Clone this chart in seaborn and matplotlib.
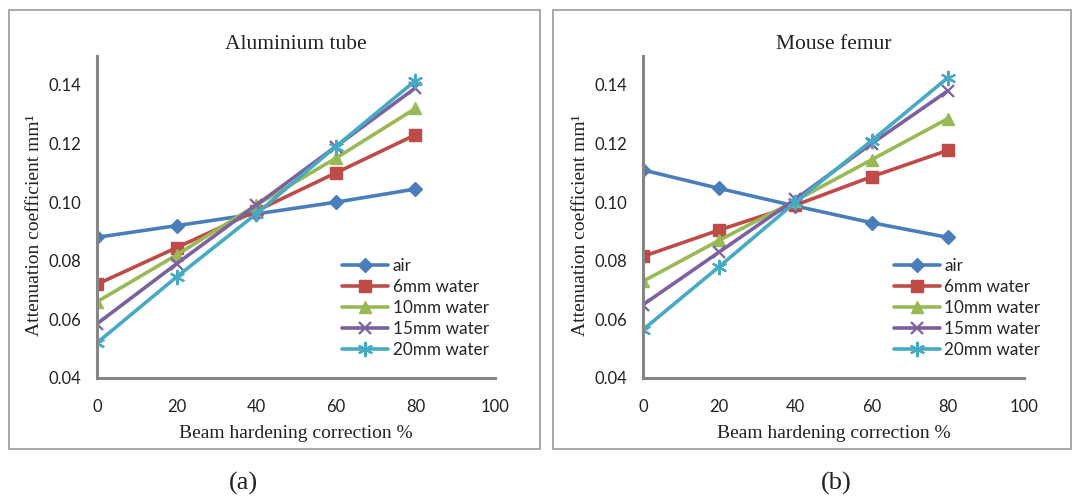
import numpy as np
import pandas as pd
import matplotlib
matplotlib.use("Agg")
import matplotlib.pyplot as plt
import seaborn as sns
from matplotlib.patches import Rectangle

correction = [0, 20, 40, 60, 80]
series_names = ["air", "6mm water", "10mm water", "15mm water", "20mm water"]

alu_air = [0.088, 0.092, 0.096, 0.100, 0.1045]
alu_6mm = [0.072, 0.0845, 0.097, 0.110, 0.123]
alu_10mm = [0.066, 0.082, 0.099, 0.115, 0.132]
alu_15mm = [0.0585, 0.079, 0.099, 0.119, 0.139]
alu_20mm = [0.052, 0.0745, 0.096, 0.119, 0.1415]

fem_air = [0.111, 0.1047, 0.0987, 0.093, 0.088]
fem_6mm = [0.0815, 0.0905, 0.099, 0.1087, 0.1177]
fem_10mm = [0.073, 0.087, 0.1005, 0.1145, 0.1285]
fem_15mm = [0.065, 0.083, 0.101, 0.120, 0.138]
fem_20mm = [0.0565, 0.078, 0.100, 0.121, 0.1425]

titles = ["Aluminium tube", "Mouse femur"]
panel_labels = ["(a)", "(b)"]
x_ticks = [0, 20, 40, 60, 80, 100]
y_ticks = [0.04, 0.06, 0.08, 0.10, 0.12, 0.14]

colors = {"air": "#4A7EBB", "6mm water": "#BE4B48", "10mm water": "#98B954",
          "15mm water": "#7D60A0", "20mm water": "#46AAC5"}
markers = {"air": "D", "6mm water": "s", "10mm water": "^",
           "15mm water": "x", "20mm water": (6, 2, 0)}
msizes = {"air": 7, "6mm water": 9, "10mm water": 9, "15mm water": 9, "20mm water": 11}

datasets = [[alu_air, alu_6mm, alu_10mm, alu_15mm, alu_20mm],
            [fem_air, fem_6mm, fem_10mm, fem_15mm, fem_20mm]]

sns.set_style("white")
plt.rcParams["font.family"] = ["Lato", "DejaVu Sans"]

fig = plt.figure(figsize=(10.73, 5.0), dpi=100)
W, H = 1073, 500

# panel frames
for (x0, x1) in [(9, 540), (553, 1071)]:
    fig.patches.append(Rectangle((x0 / W, 1 - 449 / H), (x1 - x0) / W, (449 - 10) / H,
                                 transform=fig.transFigure, fill=False,
                                 edgecolor="#9a9a9a", linewidth=1.2))

axes_px = [(97, 495), (643, 1024)]
legend_x = [0.616, 0.659]
label_x = [243, 836]
spine_color = "#868686"
serif = ["Liberation Serif", "DejaVu Serif"]

for i, (vals, (px0, px1)) in enumerate(zip(datasets, axes_px)):
    bottom = 1 - 378 / H
    top = 1 - 55.7 / H
    ax = fig.add_axes([px0 / W, bottom, (px1 - px0) / W, top - bottom])
    ax.set_facecolor("none")
    for name, v in zip(series_names, vals):
        df = pd.DataFrame({"x": correction, "y": v})
        lw_edge = 1.6 if name in ("15mm water", "20mm water") else 1
        sns.lineplot(data=df, x="x", y="y", ax=ax, color=colors[name],
                     marker=markers[name], markersize=msizes[name],
                     markeredgecolor=colors[name], markeredgewidth=lw_edge,
                     linewidth=2.6, label=name)
    ax.set_xlim(0, 100)
    ax.set_ylim(0.04, 0.15)
    ax.set_xticks(x_ticks)
    ax.set_yticks(y_ticks)
    ax.set_yticklabels([f"{v:.2f}" for v in y_ticks])
    for s in ["top", "right"]:
        ax.spines[s].set_visible(False)
    for s in ["left", "bottom"]:
        ax.spines[s].set_color(spine_color)
        ax.spines[s].set_linewidth(2.2)
    ax.tick_params(axis="both", direction="out", length=5, width=2, color=spine_color,
                   labelsize=12, labelcolor="#222222", pad=6)
    ax.tick_params(axis="x", pad=10)
    ax.set_xlabel("Beam hardening correction %", family=serif,
                  fontsize=14, color="#222222", labelpad=7)
    ax.set_ylabel("Attenuation coefficient mm\u00b9", family=serif,
                  fontsize=14, color="#222222", labelpad=4)
    ax.yaxis.label.set_y(0.475)
    ax.set_title(titles[i], family=serif, fontsize=15.5, color="#222222", pad=5)
    ax.legend(loc="center left", bbox_to_anchor=(legend_x[i], 0.217),
              frameon=False, fontsize=12.3, handlelength=2.7, handletextpad=0.25,
              labelspacing=0.3, borderaxespad=0, borderpad=0)
    fig.text(label_x[i] / W, 1 - 483 / H, panel_labels[i], ha="center", va="center",
             family=serif, fontsize=19, color="#222222")

fig.savefig("out.png", dpi=100)
